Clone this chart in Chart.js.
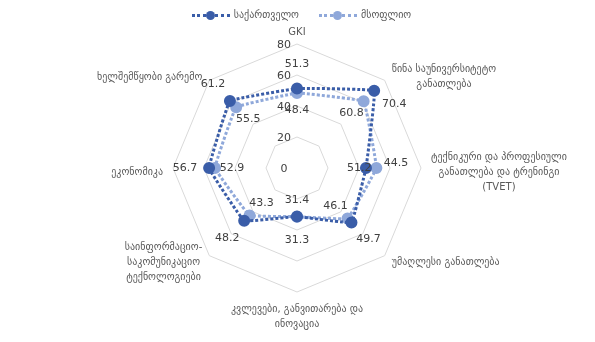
<!DOCTYPE html>
<html>
<head>
<meta charset="utf-8">
<script src="https://cdn.jsdelivr.net/npm/chart.js@4"></script>
<style>
  html, body { margin: 0; padding: 0; background: #fff; }
  #wrap { position: relative; width: 595px; height: 342px; }
  #legend {
    position: absolute; top: 9px; left: 4px; width: 595px;
    text-align: center; font: 10px "DejaVu Sans", sans-serif; color: #595959;
  }
  .item { display: inline-block; margin: 0 10px; }
  .sw { display: inline-block; width: 38px; height: 9px; vertical-align: middle; position: relative; margin-right: 4px; }
  .sw .ln { position: absolute; left: 0; right: 0; top: 3px; border-top: 3px dotted; }
  .sw .dt { position: absolute; left: 14px; top: 0; width: 9px; height: 9px; border-radius: 50%; }
</style>
</head>
<body>
<div id="wrap">
  <canvas id="chart" width="595" height="342"></canvas>
  <div id="legend"></div>
</div>
<script>
// =============================
// Data
// =============================

const categories = [
    "GKI",
    ["წინა საუნივერსიტეტო", "განათლება"],
    ["ტექნიკური და პროფესიული", "განათლება და ტრენინგი", "(TVET)"],
    "უმაღლესი განათლება",
    ["კვლევები, განვითარება და", "ინოვაცია"],
    ["საინფორმაციო-", "საკომუნიკაციო", "ტექნოლოგიები"],
    "ეკონომიკა",
    "ხელშემწყობი გარემო"
];

const seriesNames = ["საქართველო", "მსოფლიო"];

const georgia = [51.3, 70.4, 44.5, 49.7, 31.3, 48.2, 56.7, 61.2];
const world = [48.4, 60.8, 51.2, 46.1, 31.4, 43.3, 52.9, 55.5];

const tickValues = [0, 20, 40, 60, 80];

const colors = ["#3A5DA8", "#8FA8DA"];


// =============================
// Legend (html)
// =============================

const legend = document.getElementById("legend");

seriesNames.forEach((name, i) => {
    legend.innerHTML +=
        '<span class="item"><span class="sw"><span class="ln" style="border-color:' + colors[i] +
        '"></span><span class="dt" style="background:' + colors[i] + '"></span></span>' + name + '</span>';
});


// =============================
// Category labels, tick labels, value labels
// =============================

// a couple of georgia labels were moved aside in the original
const darkLabelNudge = { 1: [20, 13], 2: [30, -5] };

const textPlugin = {
    id: "textPlugin",
    afterDatasetsDraw(chart) {
        const ctx = chart.ctx;
        const scale = chart.scales.r;
        ctx.save();
        ctx.textBaseline = "middle";

        // category labels around the web
        ctx.font = "10px 'DejaVu Sans', sans-serif";
        ctx.fillStyle = "#595959";
        const lineH = 15;
        categories.forEach((lab, i) => {
            const lines = Array.isArray(lab) ? lab : [lab];
            const p = scale.getPointPosition(i, scale.drawingArea + 10);
            const w = Math.max(...lines.map(l => ctx.measureText(l).width));
            const h = lines.length * lineH;
            const dx = p.x - scale.xCenter;
            const dy = p.y - scale.yCenter;
            let left;
            if (Math.abs(dx) < 1) left = p.x - w / 2;
            else if (dx > 0) left = p.x;
            else left = p.x - w;
            let top;
            if (Math.abs(dx) < 1) top = dy < 0 ? p.y - h + 6 : p.y;
            else top = p.y - h / 2 + (dy < 1 ? 4 : 0);
            ctx.textAlign = "center";
            lines.forEach((l, k) => {
                ctx.fillText(l, left + w / 2, top + lineH * k + lineH / 2);
            });
        });

        // radial tick labels, left of the vertical axis
        ctx.font = "11px 'DejaVu Sans', sans-serif";
        ctx.fillStyle = "#404040";
        tickValues.forEach(v => {
            const d = scale.getDistanceFromCenterForValue(v);
            ctx.fillText(String(v), scale.xCenter - 13, scale.yCenter - d + 1);
        });

        // data labels
        chart.data.datasets.forEach((ds, di) => {
            const meta = chart.getDatasetMeta(di);
            const shift = di === 0 ? 24 : -17;
            meta.data.forEach((pt, i) => {
                if (di === 0 && darkLabelNudge[i]) {
                    const n = darkLabelNudge[i];
                    ctx.fillText(ds.data[i].toFixed(1), pt.x + n[0], pt.y + n[1]);
                    return;
                }
                const dx = pt.x - scale.xCenter;
                const dy = pt.y - scale.yCenter;
                const len = Math.sqrt(dx * dx + dy * dy) || 1;
                ctx.fillText(ds.data[i].toFixed(1), pt.x + dx / len * shift, pt.y + dy / len * shift);
            });
        });
        ctx.restore();
    }
};


// =============================
// Chart
// =============================

function seriesStyle(color) {
    return {
        borderColor: color,
        backgroundColor: color,
        pointBackgroundColor: color,
        pointBorderColor: color,
        borderWidth: 3,
        borderDash: [3, 2],
        pointRadius: 4.5,
        fill: false,
        tension: 0.05
    };
}

new Chart(document.getElementById("chart"), {

    type: "radar",

    data: {

        labels: categories,

        datasets: [
            Object.assign({ label: seriesNames[0], data: georgia }, seriesStyle(colors[0])),
            Object.assign({ label: seriesNames[1], data: world }, seriesStyle(colors[1]))
        ]

    },

    options: {

        responsive: false,
        animation: false,

        layout: {
            padding: { top: 44, bottom: 50, left: 100, right: 101 }
        },

        plugins: {
            legend: { display: false },
            tooltip: { enabled: false }
        },

        scales: {
            r: {
                min: 0,
                max: 80,
                ticks: { stepSize: 20, display: false },
                angleLines: { display: false },
                grid: { color: "#D9D9D9", lineWidth: 1 },
                pointLabels: { display: false }
            }
        }

    },

    plugins: [textPlugin]

});
</script>
</body>
</html>
